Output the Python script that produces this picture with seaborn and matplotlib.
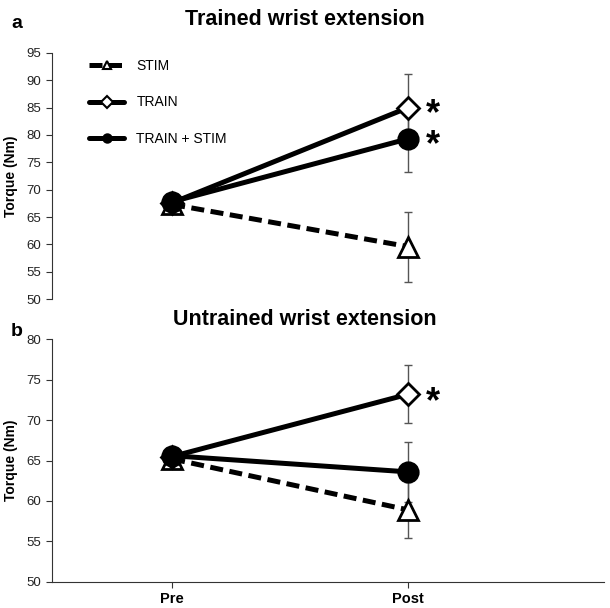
import matplotlib
matplotlib.use("Agg")
import matplotlib.pyplot as plt
import numpy as np
import pandas as pd
import seaborn as sns

times = ["Pre", "Post"]
groups = ["STIM", "TRAIN", "TRAIN + STIM"]

# trained wrist (panel a)
trained_pre = [67.3, 67.6, 67.8]
trained_post = [59.6, 85.0, 79.3]
trained_err = [6.4, 6.2, 6.0]

# untrained wrist (panel b)
untrained_pre = [65.2, 65.5, 65.6]
untrained_post = [58.9, 73.2, 63.6]
untrained_err = [3.5, 3.6, 3.7]

markers = {"STIM": "^", "TRAIN": "D", "TRAIN + STIM": "o"}
faces = {"STIM": "white", "TRAIN": "white", "TRAIN + STIM": "black"}
sizes = {"STIM": 14, "TRAIN": 11, "TRAIN + STIM": 14}
dashes = {"STIM": (2.6, 1.3), "TRAIN": "", "TRAIN + STIM": ""}

sns.set_style("white")
plt.rcParams["font.family"] = ["Liberation Sans", "DejaVu Sans"]
plt.rcParams["text.color"] = "black"
plt.rcParams["axes.labelcolor"] = "black"


def make_frame(pre, post):
    rows = []
    for g, a, b in zip(groups, pre, post):
        rows.append({"group": g, "time": 0, "torque": a})
        rows.append({"group": g, "time": 1, "torque": b})
    return pd.DataFrame(rows)


def draw_panel(ax, pre, post, err, ylim, yticks, stars):
    df = make_frame(pre, post)
    for g in groups:
        sub = df[df["group"] == g]
        sns.lineplot(data=sub, x="time", y="torque", ax=ax, color="black",
                     lw=3.6, zorder=2, legend=False)
        if dashes[g]:
            ax.lines[-1].set_dashes(dashes[g])
    for g, p, e in zip(groups, post, err):
        ax.errorbar(1, p, yerr=e, color="#555555", lw=1, capsize=3,
                    capthick=1, zorder=1)
    for g in groups:
        sub = df[df["group"] == g]
        ax.plot(sub["time"], sub["torque"], ls="none", marker=markers[g],
                ms=sizes[g], mfc=faces[g], mec="black", mew=2, zorder=3)
    for y in stars:
        ax.text(1.105, y, "*", fontsize=26, fontweight="bold",
                ha="center", va="center")
    ax.set_xlim(-0.51, 1.83)
    ax.set_ylim(*ylim)
    ax.set_yticks(yticks)
    ax.set_ylabel("Torque (Nm)", fontsize=10, fontweight="bold", labelpad=6)
    ax.set_xlabel("")
    ax.tick_params(axis="y", labelsize=9.5, length=4, direction="out",
                   left=True, colors="#333333", labelcolor="#222222")
    for s in ["top", "right"]:
        ax.spines[s].set_visible(False)
    ax.spines["left"].set_color("#333333")
    ax.spines["bottom"].set_color("#333333")


fig = plt.figure(figsize=(6.1, 6.08), dpi=100)
ax1 = fig.add_axes([0.085, 0.508, 0.905, 0.405])
ax2 = fig.add_axes([0.085, 0.043, 0.905, 0.399])

draw_panel(ax1, trained_pre, trained_post, trained_err, (50, 95),
           np.arange(50, 96, 5), [83.8, 78.0])
ax1.spines["bottom"].set_visible(False)
ax1.set_xticks([])

draw_panel(ax2, untrained_pre, untrained_post, untrained_err, (50, 80),
           np.arange(50, 81, 5), [72.2])
ax2.set_xticks([0, 1])
ax2.set_xticklabels(times, fontsize=10.5, fontweight="bold")
ax2.tick_params(axis="x", bottom=True, length=4, direction="out",
                colors="#333333", labelcolor="black")

# legend
handles = []
for g in groups:
    h, = ax1.plot([], [], color="black", lw=3.6, marker=markers[g],
                  ms=6, mfc=faces[g], mec="black", mew=1.5)
    if dashes[g]:
        h.set_dashes(dashes[g])
    handles.append(h)
ax1.legend(handles, groups, loc="upper left", bbox_to_anchor=(0.045, 1.025),
           frameon=False, fontsize=10, handlelength=2.5, labelspacing=1.6,
           handletextpad=0.9)

fig.text(0.5, 0.968, "Trained wrist extension", ha="center", va="center",
         fontsize=15.5, fontweight="bold")
fig.text(0.5, 0.475, "Untrained wrist extension", ha="center", va="center",
         fontsize=15.5, fontweight="bold")
fig.text(0.018, 0.962, "a", fontsize=14, fontweight="bold", va="center")
fig.text(0.018, 0.455, "b", fontsize=14, fontweight="bold", va="center")

fig.savefig("out.png", dpi=100)
